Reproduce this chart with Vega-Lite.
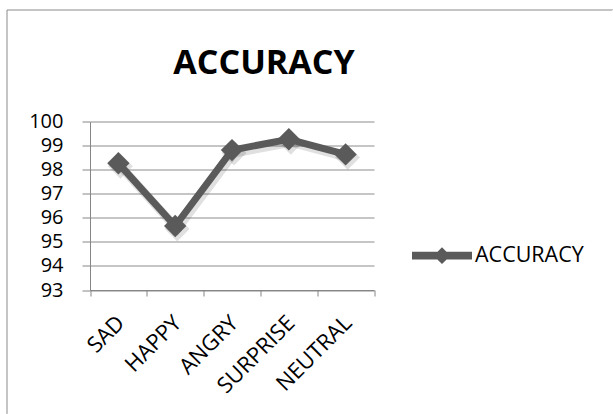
{
  "$schema": "https://vega.github.io/schema/vega-lite/v6.json",
  "width": 606.5,
  "height": 404.5,
  "autosize": {"type": "none"},
  "padding": {"left": 6.5, "top": 9.5, "right": 0, "bottom": 0},
  "background": "white",
  "data": {
    "values": [
      {"emotion": "SAD", "accuracy": 98.27, "series": "ACCURACY"},
      {"emotion": "HAPPY", "accuracy": 95.66, "series": "ACCURACY"},
      {"emotion": "ANGRY", "accuracy": 98.82, "series": "ACCURACY"},
      {"emotion": "SURPRISE", "accuracy": 99.27, "series": "ACCURACY"},
      {"emotion": "NEUTRAL", "accuracy": 98.64, "series": "ACCURACY"}
    ]
  },
  "title": {
    "text": "ACCURACY",
    "font": "Open Sans",
    "fontSize": 34,
    "fontWeight": "bold",
    "color": "black",
    "anchor": "middle",
    "frame": "group",
    "baseline": "alphabetic",
    "dx": -45.75,
    "offset": -98
  },
  "config": {
    "view": {
      "strokeWidth": 1,
      "stroke": {
        "gradient": "linear",
        "x1": 0,
        "y1": 0,
        "x2": 1,
        "y2": 1,
        "stops": [
          {"offset": 0, "color": "#8a8a8a"},
          {"offset": 0.499, "color": "#8a8a8a"},
          {"offset": 0.5, "color": "#ffffff"},
          {"offset": 1, "color": "#ffffff"}
        ]
      }
    },
    "axis": {
      "labelFont": "Open Sans",
      "labelColor": "black",
      "domainColor": "#868686",
      "tickColor": "#868686",
      "gridColor": "#8c8c8c",
      "title": null
    }
  },
  "encoding": {
    "x": {
      "field": "emotion",
      "type": "nominal",
      "sort": null,
      "bandPosition": 0.5,
      "scale": {"type": "band", "paddingInner": 0, "paddingOuter": 0, "range": [83.5, 367.5]},
      "axis": {
        "offset": -124,
        "tickBand": "extent",
        "tickSize": 6,
        "labelAngle": -45,
        "labelAlign": "right",
        "labelBaseline": "middle",
        "labelFontSize": 22,
        "labelPadding": 23,
        "labelOffset": 2,
        "grid": false
      }
    },
    "y": {
      "field": "accuracy",
      "type": "quantitative",
      "scale": {"domain": [93, 100], "nice": false, "zero": false, "range": [280.5, 112.2]},
      "axis": {
        "offset": -83.5,
        "values": [93, 94, 95, 96, 97, 98, 99, 100],
        "grid": true,
        "tickSize": 8,
        "labelFontSize": 20,
        "labelPadding": 19
      }
    }
  },
  "layer": [
    {
      "description": "soft drop shadow under the series",
      "mark": {
        "type": "line",
        "strokeWidth": 9,
        "color": "#000000",
        "opacity": 0.12,
        "xOffset": 2,
        "yOffset": 3,
        "point": {"shape": "diamond", "size": 620, "filled": true, "color": "#000000", "opacity": 0.12, "xOffset": 2, "yOffset": 3}
      }
    },
    {
      "mark": {
        "type": "line",
        "strokeWidth": 7,
        "point": {"shape": "diamond", "size": 500, "filled": true, "opacity": 1}
      },
      "encoding": {
        "color": {
          "field": "series",
          "type": "nominal",
          "scale": {"range": ["#5a5a5a"]},
          "legend": {
            "orient": "none",
            "legendX": 405.5,
            "legendY": 216.2,
            "title": null,
            "padding": 0,
            "labelFont": "Open Sans",
            "labelFontSize": 21.5,
            "labelColor": "black",
            "labelOffset": 3,
            "symbolType": "M-1,-0.13L1,-0.13L1,0.13L-1,0.13Z M-0.28,0L0,-0.28L0.28,0L0,0.28Z",
            "symbolSize": 3600,
            "symbolFillColor": "#5a5a5a",
            "symbolStrokeWidth": 0
          }
        }
      }
    }
  ]
}
